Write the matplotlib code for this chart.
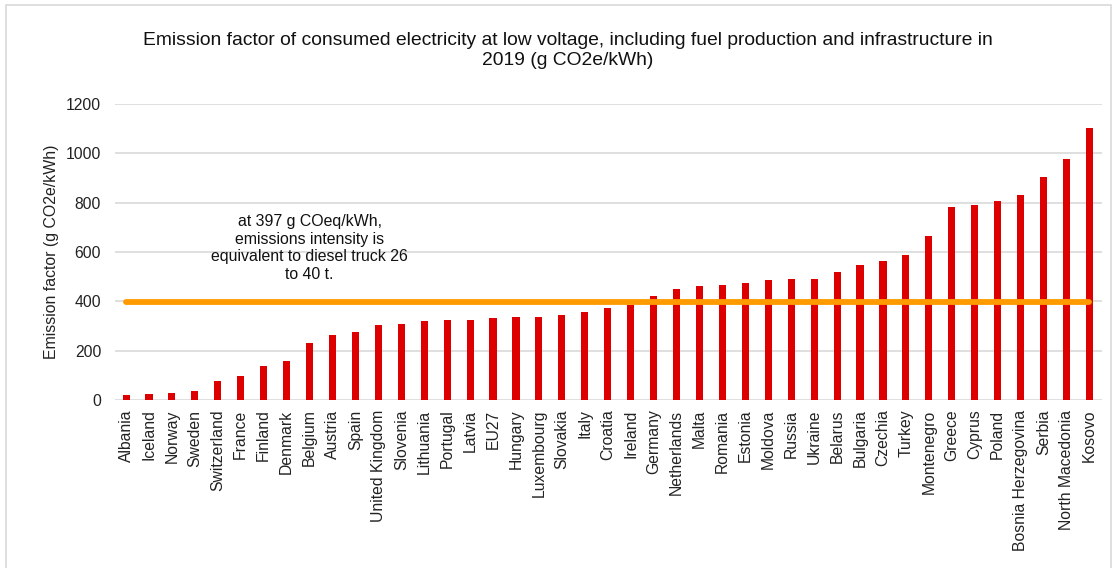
import numpy as np
import matplotlib.pyplot as plt
from matplotlib.patches import Rectangle

plt.rcParams['font.family'] = ['Liberation Sans', 'DejaVu Sans']

# emission factors (g CO2e/kWh)
countries = ['Albania', 'Iceland', 'Norway', 'Sweden', 'Switzerland', 'France',
             'Finland', 'Denmark', 'Belgium', 'Austria', 'Spain', 'United Kingdom',
             'Slovenia', 'Lithuania', 'Portugal', 'Latvia', 'EU27', 'Hungary',
             'Luxembourg', 'Slovakia', 'Italy', 'Croatia', 'Ireland', 'Germany',
             'Netherlands', 'Malta', 'Romania', 'Estonia', 'Moldova', 'Russia',
             'Ukraine', 'Belarus', 'Bulgaria', 'Czechia', 'Turkey', 'Montenegro',
             'Greece', 'Cyprus', 'Poland', 'Bosnia Herzegovina', 'Serbia',
             'North Macedonia', 'Kosovo']
values = [20, 23, 28, 38, 78, 95, 139, 158, 230, 262, 277, 303, 307, 321, 323,
          325, 334, 337, 337, 345, 355, 371, 383, 421, 448, 462, 465, 472, 488,
          490, 491, 517, 545, 565, 589, 664, 781, 792, 805, 831, 902, 978, 1103]
truck_level = 397
note = "at 397 g COeq/kWh,\nemissions intensity is\nequivalent to diesel truck 26\nto 40 t."

fig = plt.figure(figsize=(11.17, 5.68), dpi=100)
ax = fig.add_axes([0.103, 0.296, 0.8836, 0.521])

x = np.arange(len(countries))
ax.bar(x, values, width=0.31, color='#DE0000', zorder=2)
ax.plot([x[0], x[-1]], [truck_level, truck_level], color='#FF9A00',
        lw=4.2, solid_capstyle='round', zorder=3)
ax.text(8.0, 616, note, ha='center', va='center', fontsize=11.4, color='#111111')

ax.set_ylim(0, 1200)
ax.set_xlim(-0.48, len(countries) - 0.45)
ax.set_yticks(np.arange(0, 1201, 200))
ax.grid(axis='y', color='#d9d9d9', lw=1.2, zorder=0)
ax.set_xticks(x)
ax.set_xticklabels(countries, rotation=90)
ax.tick_params(axis='both', length=0, labelsize=11.3, colors='#222222')
ax.tick_params(axis='y', pad=10)
ax.tick_params(axis='x', pad=7)
for s in ax.spines.values():
    s.set_visible(False)
ax.set_ylabel('Emission factor (g CO2e/kWh)', fontsize=11.4, color='#222222', labelpad=5)

fig.text(0.508, 0.911,
         'Emission factor of consumed electricity at low voltage, including fuel production and infrastructure in\n2019 (g CO2e/kWh)',
         ha='center', va='center', fontsize=13.9, color='#111111', linespacing=1.2)

fig.patches.append(Rectangle((0.005, -0.02), 0.99, 1.012, transform=fig.transFigure,
                             fill=False, edgecolor='#d9d9d9', lw=1.2))

fig.savefig('out.png', dpi=100)
